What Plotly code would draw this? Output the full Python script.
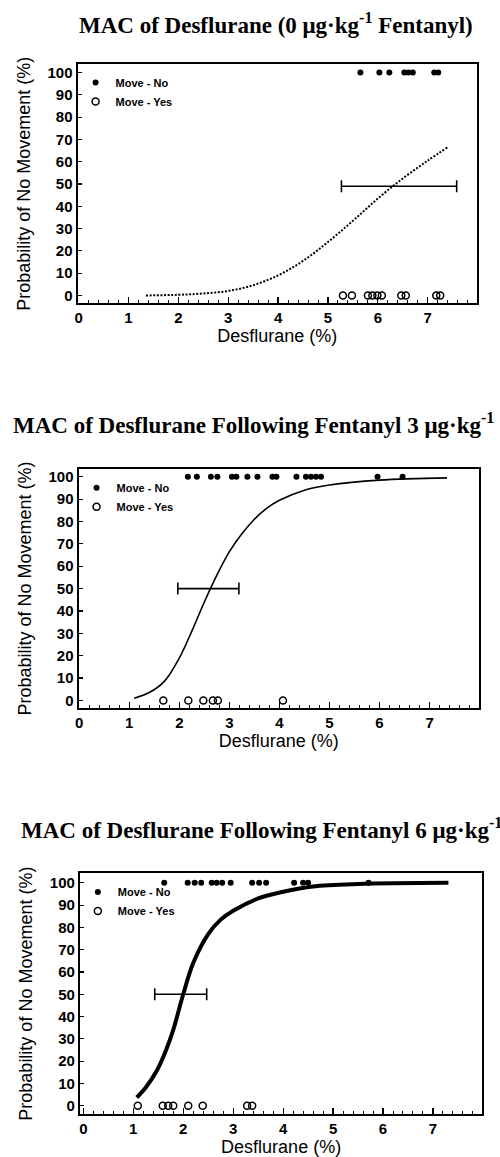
import plotly.graph_objects as go

# ---------------- data ----------------
titles = [
    "MAC of Desflurane (0 μg·kg<sup>-1</sup> Fentanyl)",
    "MAC of Desflurane Following Fentanyl 3 μg·kg<sup>-1</sup>",
    "MAC of Desflurane Following Fentanyl 6 μg·kg<sup>-1</sup>",
]
x_title = "Desflurane (%)"
y_title = "Probability of No Movement (%)"
legend_labels = ["Move - No", "Move - Yes"]

no_move_level = 100
move_level = 0

p1_no = [5.65, 6.03, 6.23, 6.53, 6.61, 6.70, 7.13, 7.21]
p1_yes = [5.30, 5.48, 5.80, 5.89, 5.99, 6.08, 6.47, 6.56, 7.17, 7.25]
p2_no = [2.17, 2.35, 2.63, 2.76, 3.05, 3.14, 3.36, 3.56, 3.86, 3.94,
         4.34, 4.53, 4.63, 4.73, 4.83, 5.96, 6.46]
p2_yes = [1.68, 2.18, 2.48, 2.67, 2.77, 4.07]
p3_no = [1.62, 2.09, 2.23, 2.36, 2.57, 2.67, 2.78, 2.95, 3.38, 3.52, 3.66,
         4.22, 4.40, 4.50, 5.71]
p3_yes = [1.09, 1.59, 1.70, 1.80, 2.10, 2.39, 3.28, 3.38]

p1_curve_x = [1.35, 2.0, 2.5, 3.0, 3.5, 4.0, 4.5, 5.0, 5.5, 6.0, 6.5, 7.0, 7.4]
p1_curve_y = [0.0, 0.3, 0.9, 2.0, 4.6, 9, 15.5, 24, 33.5, 43.5, 52.5, 60.5, 66.5]
p2_curve_x = [1.1, 1.4, 1.7, 2.0, 2.25, 2.5, 2.75, 3.0, 3.25, 3.5, 3.75, 4.0,
              4.5, 5.0, 6.0, 7.35]
p2_curve_y = [1, 3.5, 8.5, 19, 31, 44, 56, 66.5, 74.5, 81, 86, 89.5,
              94, 96.3, 98.5, 99.5]
p3_curve_x = [1.07, 1.25, 1.47, 1.65, 1.8, 2.0, 2.2, 2.5, 2.75, 3.0, 3.5, 4.0,
              4.6, 5.5, 7.31]
p3_curve_y = [3.7, 8.2, 15.7, 24.6, 34, 50, 64, 77, 83.5, 87.5, 93, 96,
              98.4, 99.5, 100]

mac = [6.33, 2.61, 1.98]
mac_level = [49, 50, 50]
ci_low = [5.27, 1.97, 1.43]
ci_high = [7.58, 3.19, 2.47]

# ---------------- layout helpers ----------------
W, H = 500, 1157
panels = [
    dict(px=(75, 477), py=(63, 303), xr=[-0.02, 7.99], yr=[-3.6, 103.9],
         no=p1_no, yes=p1_yes, cx=p1_curve_x, cy=p1_curve_y,
         dash="2px,1.6px", lw=2, title_y=23, title_x=275),
    dict(px=(76, 479), py=(469, 708), xr=[-0.014, 7.99], yr=[-3.3, 103.4],
         no=p2_no, yes=p2_yes, cx=p2_curve_x, cy=p2_curve_y,
         dash="solid", lw=1.6, title_y=423, title_x=252),
    dict(px=(77.3, 482.3), py=(874, 1114.7), xr=[-0.07, 7.99], yr=[-3.6, 104.2],
         no=p3_no, yes=p3_yes, cx=p3_curve_x, cy=p3_curve_y,
         dash="solid", lw=4, title_y=829, title_x=260),
]

fig = go.Figure()
annotations = []
layout_axes = {}
sans = "Liberation Sans, Arial, sans-serif"
serif = "Liberation Serif, Times New Roman, serif"

for i, p in enumerate(panels):
    n = i + 1
    xa = "x" if n == 1 else f"x{n}"
    ya = "y" if n == 1 else f"y{n}"
    lg = "legend" if n == 1 else f"legend{n}"
    xr, yr = p["xr"], p["yr"]

    # fitted curve
    fig.add_trace(go.Scatter(
        x=p["cx"], y=p["cy"], mode="lines", xaxis=xa, yaxis=ya,
        line=dict(color="black", width=p["lw"], dash=p["dash"], shape="spline", smoothing=1.0),
        showlegend=False, hoverinfo="skip"))
    # MAC with its confidence interval
    fig.add_trace(go.Scatter(
        x=[mac[i]], y=[mac_level[i]], mode="markers", xaxis=xa, yaxis=ya,
        marker=dict(size=1, color="rgba(0,0,0,0)"),
        error_x=dict(type="data", symmetric=False,
                     array=[ci_high[i] - mac[i]], arrayminus=[mac[i] - ci_low[i]],
                     color="black", thickness=1.6, width=6),
        showlegend=False, hoverinfo="skip"))
    # no movement
    fig.add_trace(go.Scatter(
        x=p["no"], y=[no_move_level] * len(p["no"]), mode="markers", xaxis=xa, yaxis=ya,
        marker=dict(symbol="circle", size=6, color="black"),
        name=legend_labels[0], legend=lg))
    # movement
    fig.add_trace(go.Scatter(
        x=p["yes"], y=[move_level] * len(p["yes"]), mode="markers", xaxis=xa, yaxis=ya,
        marker=dict(symbol="circle-open", size=7, color="black", line=dict(width=1.5)),
        name=legend_labels[1], legend=lg))

    xdom = [p["px"][0] / W, p["px"][1] / W]
    ydom = [(H - p["py"][1]) / H, (H - p["py"][0]) / H]
    axis_common = dict(showline=True, linecolor="rgb(0,0,0)", linewidth=2, mirror=True,
                       layer="above traces",
                       showgrid=False, zeroline=False, ticks="inside",
                       tickcolor="black", tickwidth=1.2,
                       tickfont=dict(family=sans, size=15, color="black", weight="bold"))
    xkey = "xaxis" if n == 1 else f"xaxis{n}"
    ykey = "yaxis" if n == 1 else f"yaxis{n}"
    layout_axes[xkey] = dict(axis_common, domain=xdom, range=xr, anchor=ya,
                             tickmode="linear", tick0=0, dtick=1, ticklen=6,
                             minor=dict(dtick=0.2, tick0=0, ticks="inside", ticklen=3,
                                        tickcolor="black", tickwidth=1),
                             title=dict(text=x_title, standoff=4,
                                        font=dict(family=sans, size=18, color="black")))
    layout_axes[ykey] = dict(axis_common, domain=ydom, range=yr, anchor=xa,
                             tickmode="linear", tick0=0, dtick=10, ticklen=4,
                             title=dict(text=y_title, standoff=12,
                                        font=dict(family=sans, size=18, color="black")))
    layout_axes[lg] = dict(x=(p["px"][0] - 2) / W, y=1 - (p["py"][0] + 4) / H,
                           xanchor="left", yanchor="top", bgcolor="rgba(0,0,0,0)",
                           itemwidth=30,
                           font=dict(family=sans, size=11, color="black", weight="bold"))
    annotations.append(dict(
        text=titles[i], x=p["title_x"] / W, y=1 - p["title_y"] / H,
        xref="paper", yref="paper", xanchor="center", yanchor="middle", showarrow=False,
        font=dict(family=serif, size=23, color="black", weight="bold")))

fig.update_layout(
    width=W, height=H, margin=dict(l=0, r=0, t=0, b=0),
    paper_bgcolor="white", plot_bgcolor="rgba(0,0,0,0)",
    annotations=annotations, **layout_axes)

fig.write_html("out.html", config={"displayModeBar": False, "staticPlot": True},
               post_script="document.body.style.margin='0';")
